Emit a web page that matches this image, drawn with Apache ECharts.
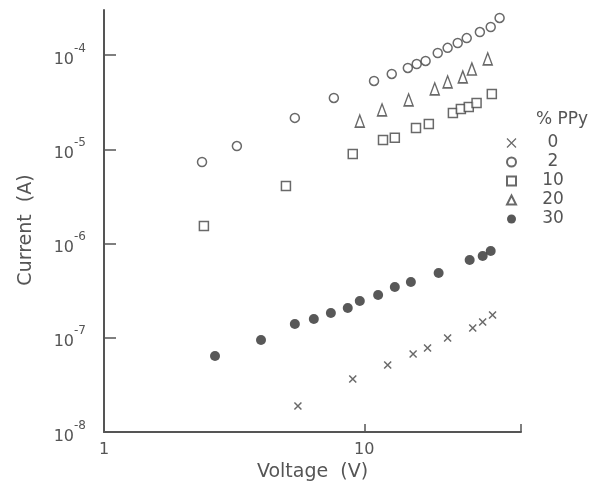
<!DOCTYPE html>
<html>
<head>
<meta charset="utf-8">
<script src="https://cdn.jsdelivr.net/npm/echarts@6/dist/echarts.min.js"></script>
<style>
  html, body { margin: 0; padding: 0; background: #fff; }
  #chart { width: 596px; height: 491px; }
</style>
</head>
<body>
<div id="chart"></div>
<script>
// ---- data ----
const voltage0  = [5.56, 9.03, 12.3, 15.4, 17.5, 20.9, 26.1, 28.5, 31.1];
const current0  = [1.89e-8, 3.65e-8, 5.14e-8, 6.72e-8, 7.79e-8, 9.94e-8, 1.27e-7, 1.47e-7, 1.74e-7];

const voltage2  = [2.38, 3.24, 5.41, 7.64, 10.9, 12.75, 14.7, 15.9, 17.2, 19.15, 20.9, 22.85, 24.75, 27.8, 30.6, 33.1];
const current2  = [7.32e-6, 1.08e-5, 2.15e-5, 3.50e-5, 5.30e-5, 6.29e-5, 7.28e-5, 8.02e-5, 8.64e-5, 1.05e-4, 1.19e-4, 1.34e-4, 1.51e-4, 1.75e-4, 1.98e-4, 2.47e-4];

const voltage10 = [2.42, 5.00, 9.03, 11.8, 13.1, 15.8, 17.7, 21.9, 23.5, 25.2, 27.0, 30.9];
const current10 = [1.53e-6, 4.07e-6, 8.90e-6, 1.25e-5, 1.32e-5, 1.68e-5, 1.85e-5, 2.42e-5, 2.67e-5, 2.81e-5, 3.09e-5, 3.86e-5];

const voltage20 = [9.61, 11.7, 14.8, 18.65, 20.9, 23.9, 25.9, 29.8];
const current20 = [1.99e-5, 2.61e-5, 3.33e-5, 4.36e-5, 5.17e-5, 5.84e-5, 7.10e-5, 9.07e-5];

const voltage30 = [2.67, 4.01, 5.41, 6.40, 7.44, 8.64, 9.61, 11.3, 13.1, 15.1, 19.3, 25.4, 28.5, 30.6];
const current30 = [6.40e-8, 9.46e-8, 1.40e-7, 1.58e-7, 1.83e-7, 2.07e-7, 2.45e-7, 2.84e-7, 3.45e-7, 3.90e-7, 4.86e-7, 6.68e-7, 7.37e-7, 8.32e-7];

const seriesNames = ['0', '2', '10', '20', '30'];
const xTickLabels = ['1', '10'];
const yTickExponents = ['-8', '-7', '-6', '-5', '-4'];

// ---- chart ----
const ink = '#555';
const markInk = '#444';
const font = 'DejaVu Sans';
function pairs(xs, ys) { return xs.map((x, i) => [x, ys[i]]); }

const crossPath = 'path://M0,0L10,10M10,0L0,10';

const chart = echarts.init(document.getElementById('chart'), null, { renderer: 'canvas' });

const option = {
  animation: false,
  backgroundColor: '#fff',
  textStyle: { fontFamily: font, color: ink },
  title: {
    text: '% PPy',
    right: 3, top: 106,
    textStyle: { fontFamily: font, fontSize: 17, fontWeight: 'normal', color: ink }
  },
  legend: {
    orient: 'vertical',
    left: 501, top: 129,
    itemWidth: 9, itemHeight: 9, itemGap: 1,
    data: [
      { name: '0', icon: crossPath, itemStyle: { borderWidth: 1.2 } },
      { name: '2', icon: 'circle' },
      { name: '10', icon: 'rect' },
      { name: '20', icon: 'triangle' },
      { name: '30', icon: 'circle' }
    ],
    formatter: function (n) { return '{c|' + n + '}'; },
    textStyle: {
      fontFamily: font, fontSize: 17, color: ink, lineHeight: 18,
      rich: { c: { width: 24, align: 'center', padding: [0, 0, 0, 20], fontSize: 17, color: ink, fontFamily: font } }
    }
  },
  grid: [
    { left: 104, right: 75, top: 10, bottom: 59, containLabel: false },
    { left: 104, right: 75, top: 55, bottom: 59, containLabel: false }
  ],
  xAxis: [
    {
      gridIndex: 0, type: 'log', logBase: 10, min: 1, max: 40,
      name: 'Voltage  (V)', nameLocation: 'middle', nameGap: 30,
      nameTextStyle: { fontFamily: font, fontSize: 19, color: ink },
      axisLine: { lineStyle: { color: ink, width: 2 } },
      axisTick: { inside: true, length: 8, lineStyle: { color: ink, width: 1.5 } },
      axisLabel: {
        margin: 10, fontFamily: font, fontSize: 16, color: ink,
        formatter: function (v) {
          const s = String(Math.round(v));
          return xTickLabels.indexOf(s) >= 0 ? s : '';
        }
      },
      splitLine: { show: false }
    },
    {
      gridIndex: 1, type: 'log', logBase: 10, min: 1, max: 40, show: false
    }
  ],
  yAxis: [
    {
      gridIndex: 0, type: 'log', logBase: 10, min: 1e-8, max: 3e-4,
      name: 'Current  (A)', nameLocation: 'middle', nameGap: 68,
      nameTextStyle: { fontFamily: font, fontSize: 19, color: ink, padding: [0, 18, 0, 0] },
      axisLine: { lineStyle: { color: ink, width: 2 } },
      axisTick: { show: false },
      axisLabel: { show: false },
      splitLine: { show: false }
    },
    {
      gridIndex: 1, type: 'log', logBase: 10, min: 1e-8, max: 1e-4,
      axisLine: { show: false },
      axisTick: { inside: true, length: 12, lineStyle: { color: ink, width: 1.5 } },
      axisLabel: {
        margin: 18,
        formatter: function (v) {
          const e = String(Math.round(Math.log10(v)));
          return yTickExponents.indexOf(e) >= 0 ? '{a|10}{b|' + e + '}' : '';
        },
        rich: {
          a: { fontFamily: font, fontSize: 16, color: ink, verticalAlign: 'bottom', padding: [9, 0, 0, 0] },
          b: { fontFamily: font, fontSize: 12, color: ink, verticalAlign: 'top' }
        }
      },
      splitLine: { show: false }
    }
  ],
  series: [
    {
      name: seriesNames[0], type: 'scatter', xAxisIndex: 0, yAxisIndex: 0,
      data: pairs(voltage0, current0), symbol: crossPath, symbolSize: 7,
      itemStyle: { color: 'transparent', borderColor: markInk, borderWidth: 1.5 }
    },
    {
      name: seriesNames[1], type: 'scatter', xAxisIndex: 0, yAxisIndex: 0,
      data: pairs(voltage2, current2), symbol: 'circle', symbolSize: 9,
      itemStyle: { color: '#fff', borderColor: markInk, borderWidth: 1.5 }
    },
    {
      name: seriesNames[2], type: 'scatter', xAxisIndex: 0, yAxisIndex: 0,
      data: pairs(voltage10, current10), symbol: 'rect', symbolSize: 9,
      itemStyle: { color: '#fff', borderColor: markInk, borderWidth: 1.5 }
    },
    {
      name: seriesNames[3], type: 'scatter', xAxisIndex: 0, yAxisIndex: 0,
      data: pairs(voltage20, current20), symbol: 'triangle', symbolSize: [9, 12],
      itemStyle: { color: '#fff', borderColor: markInk, borderWidth: 1.5 }
    },
    {
      name: seriesNames[4], type: 'scatter', xAxisIndex: 0, yAxisIndex: 0,
      data: pairs(voltage30, current30), symbol: 'circle', symbolSize: 10,
      itemStyle: { color: '#2e2e2e' }
    }
  ]
};
chart.setOption(option);
</script>
</body>
</html>
